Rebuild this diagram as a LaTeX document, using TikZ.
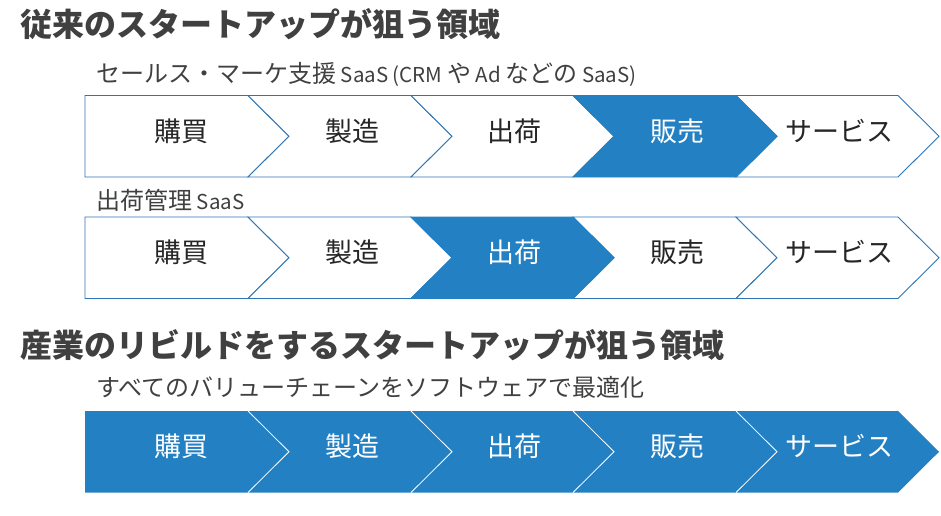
\documentclass[tikz,border=0pt]{standalone}
\usepackage{fontspec}
\setmainfont{Noto Sans CJK JP}
\definecolor{vcblue}{RGB}{34,128,195}
\definecolor{vcedge}{RGB}{46,117,182}
\definecolor{txtgray}{RGB}{64,64,64}
\definecolor{labgray}{RGB}{38,38,38}
\newcommand\chevshape[4]{(#1,#3) -- (#2,#3) -- ({#2+41},{#3+40.75}) -- (#2,{#3+81.5}) -- (#1,{#3+81.5}) -- ({#1+#4},{#3+40.75}) -- cycle}
\newcommand\notchline[2]{(#1,#2) -- ({#1+41},{#2+40.75}) -- (#1,{#2+81.5})}
\newcommand\latrun[1]{{\fontsize{20.5}{24}\selectfont #1}}
\tikzset{
  titletext/.style={anchor=west, font=\fontsize{32}{36}\selectfont\bfseries, text=txtgray, inner sep=0pt},
  subtext/.style={anchor=west, font=\fontsize{24}{28}\selectfont, text=txtgray, inner sep=0pt},
  labtext/.style={font=\fontsize{27}{30}\selectfont, text=labgray, inner sep=0pt},
  labwhite/.style={font=\fontsize{27}{30}\selectfont, text=white, inner sep=0pt},
  wseg/.style={fill=white, draw=vcedge, line width=0.9pt, line join=miter},
  bseg/.style={fill=vcblue, draw=vcblue, line width=0.9pt, line join=miter},
  fseg/.style={fill=vcblue},
  sepline/.style={draw=white, line width=0.8pt},
}
\begin{document}
\begin{tikzpicture}[x=1pt,y=-1pt]
\useasboundingbox[fill=white] (0,0) rectangle (941,515);

% Titles and subtitles
\node[titletext] (t1) at (20,24) {従来のスタートアップが狙う領域};
\node[subtext] (s1) at (96,74) {セールス・マーケ支援\latrun{ SaaS (CRM }や\latrun{ Ad }などの\latrun{ SaaS)}};
\node[subtext] (s2) at (96,200) {出荷管理\latrun{ SaaS}};
\node[titletext] (t2) at (20,345) {産業のリビルドをするスタートアップが狙う領域};
\node[subtext] (s3) at (96,387) {すべてのバリューチェーンをソフトウェアで最適化};

% Row 1
\draw[wseg] \chevshape{85}{248}{95.5}{0};
\draw[wseg] \chevshape{248}{411}{95.5}{41};
\draw[wseg] \chevshape{411}{573}{95.5}{41};
\draw[wseg] \chevshape{736}{898}{95.5}{41};
\draw[bseg] \chevshape{573}{736}{95.5}{41};
\node[labtext] (r1a) at (181,131) {購買};
\node[labtext] (r1b) at (352,131) {製造};
\node[labtext] (r1c) at (514,131) {出荷};
\node[labwhite] (r1d) at (677,131) {販売};
\node[labtext] (r1e) at (839,131) {サービス};

% Row 2
\draw[wseg] \chevshape{85}{248}{217}{0};
\draw[wseg] \chevshape{248}{411}{217}{41};
\draw[wseg] \chevshape{573}{736}{217}{41};
\draw[wseg] \chevshape{736}{898}{217}{41};
\draw[bseg] \chevshape{411}{573}{217}{41};
\node[labtext] (r2a) at (181,252) {購買};
\node[labtext] (r2b) at (352,252) {製造};
\node[labwhite] (r2c) at (514,252) {出荷};
\node[labtext] (r2d) at (677,252) {販売};
\node[labtext] (r2e) at (839,252) {サービス};

% Row 3
\fill[fseg] \chevshape{85}{248}{411}{0};
\fill[fseg] \chevshape{248}{411}{411}{41};
\fill[fseg] \chevshape{411}{573}{411}{41};
\fill[fseg] \chevshape{573}{736}{411}{41};
\fill[fseg] \chevshape{736}{898}{411}{41};
\draw[sepline] \notchline{248}{411};
\draw[sepline] \notchline{411}{411};
\draw[sepline] \notchline{573}{411};
\draw[sepline] \notchline{736}{411};
\node[labwhite] (r3a) at (181,446) {購買};
\node[labwhite] (r3b) at (352,446) {製造};
\node[labwhite] (r3c) at (514,446) {出荷};
\node[labwhite] (r3d) at (677,446) {販売};
\node[labwhite] (r3e) at (839,446) {サービス};
\end{tikzpicture}
\end{document}
